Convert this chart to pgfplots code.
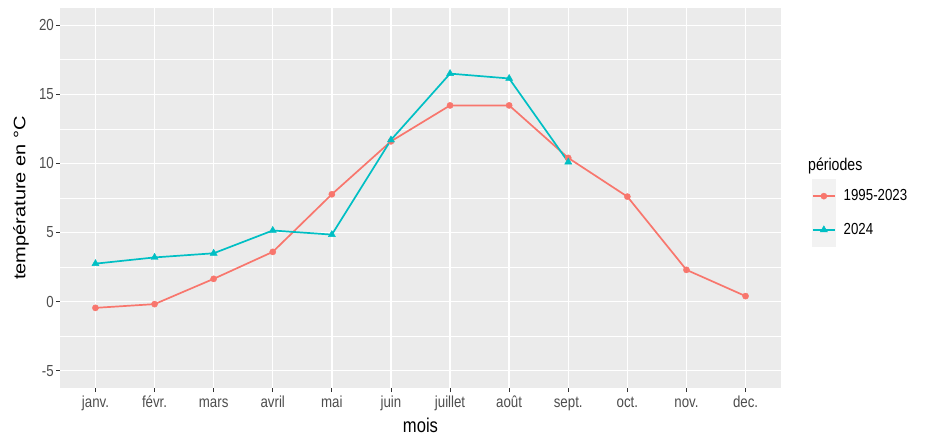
\documentclass[border=0pt]{standalone}
\usepackage{fontspec}
\setmainfont{Liberation Sans}[FakeStretch=0.83]
\newfontfamily\ylabfont{Liberation Sans}
\usepackage{graphicx}
\usepackage{pgfplots}
\pgfplotsset{compat=1.18}
\definecolor{panel}{HTML}{EBEBEB}
\definecolor{keybg}{HTML}{F2F2F2}
\definecolor{ggred}{HTML}{F8766D}
\definecolor{ggteal}{HTML}{00BFC4}
\definecolor{grey30}{HTML}{4D4D4D}
\definecolor{grey20}{HTML}{333333}
\begin{document}
\begin{tikzpicture}[x=1pt,y=1pt]
\useasboundingbox (0,0) rectangle (925,437);
\begin{axis}[
  at={(60pt,49pt)}, anchor=south west,
  scale only axis, width=721pt, height=380pt,
  xmin=0.4, xmax=12.6, ymin=-6.25, ymax=21.25,
  axis background/.style={fill=panel},
  axis line style={draw=none},
  xtick={1,2,3,4,5,6,7,8,9,10,11,12},
  xticklabels={janv.,févr.,mars,avril,mai,juin,juillet,août,sept.,oct.,nov.,dec.},
  ytick={-5,0,5,10,15,20},
  yticklabels={-5,0,5,10,15,20},
  minor ytick={-2.5,2.5,7.5,12.5,17.5},
  grid=both,
  major grid style={white, line width=1.4pt},
  minor grid style={white, line width=0.7pt},
  tick align=outside, tick pos=left,
  major tick length=4pt, minor tick length=0pt,
  every tick/.style={grey20, line width=0.9pt},
  tick label style={font=\fontsize{16}{16}\selectfont, text=grey30},
  xticklabel style={inner sep=0pt, text height=12pt, text depth=3.5pt, yshift=-3pt},
  yticklabel style={inner sep=2pt},
  xlabel={mois},
  ylabel={\scalebox{1}[0.83]{\ylabfont\fontsize{20}{20}\selectfont température en °C}},
  xlabel style={font=\fontsize{20}{20}\selectfont, at={(axis description cs:0.5,-0.0974)}, anchor=center},
  ylabel style={at={(axis description cs:-0.0541,0.5)}, anchor=center},
  legend style={at={(axis description cs:1.043,0.4605)}, anchor=west, draw=none, fill=none,
    inner sep=0pt, outer sep=0pt, row sep=0pt, column sep=8pt,
    nodes={inner sep=0pt, font=\fontsize{16}{16}\selectfont}},
  legend cell align=left,
  legend image code/.code={
    \fill[keybg] (0pt,-16pt) rectangle (22pt,16pt);
    \draw[mark repeat=2,mark phase=2,#1] plot coordinates {(0pt,0pt) (11pt,0pt) (22pt,0pt)};
  },
]
\addplot[ggred, line width=1.7pt, mark=*, mark size=3.1pt, mark options={line width=0.4pt}] coordinates {
  (1,-0.45) (2,-0.18) (3,1.65) (4,3.6) (5,7.77) (6,11.6) (7,14.2) (8,14.2) (9,10.4) (10,7.6) (11,2.3) (12,0.4)
};
\addlegendentry{1995-2023}
\addplot[ggteal, line width=1.7pt, mark=triangle*, mark size=4.1pt, mark options={line width=0.4pt}] coordinates {
  (1,2.75) (2,3.2) (3,3.5) (4,5.15) (5,4.85) (6,11.7) (7,16.5) (8,16.15) (9,10.1)
};
\addlegendentry{2024}
\end{axis}
\node[anchor=west, inner sep=0pt, font=\fontsize{17}{17}\selectfont] at (808,270.5) {périodes};
\end{tikzpicture}
\end{document}
